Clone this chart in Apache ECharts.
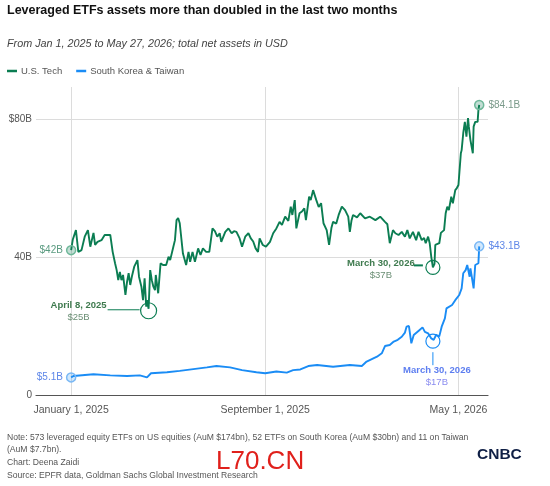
<!DOCTYPE html>
<html>
<head>
<meta charset="utf-8">
<script src="https://cdn.jsdelivr.net/npm/echarts@6/dist/echarts.min.js"></script>
<style>
  html, body { margin: 0; padding: 0; background: #fff; }
  #chart { width: 550px; height: 486px; }
</style>
</head>
<body>
<div id="chart"></div>
<script>
// U.S. Tech leveraged ETF assets ($B)
var techDates = [
  '2025-01-01','2025-01-03','2025-01-07','2025-01-10','2025-01-14','2025-01-18','2025-01-22','2025-01-25','2025-01-29','2025-01-31',
  '2025-02-03','2025-02-05','2025-02-08','2025-02-12','2025-02-19','2025-02-22','2025-02-25','2025-02-27','2025-03-01','2025-03-03',
  '2025-03-05','2025-03-07','2025-03-10','2025-03-12','2025-03-14','2025-03-16','2025-03-18','2025-03-21','2025-03-25','2025-03-27',
  '2025-03-30','2025-04-01','2025-04-03','2025-04-05','2025-04-06','2025-04-08','2025-04-10','2025-04-12','2025-04-14','2025-04-16',
  '2025-04-17','2025-04-20','2025-04-23','2025-04-26','2025-04-30','2025-05-03','2025-05-05','2025-05-09','2025-05-11','2025-05-13',
  '2025-05-15','2025-05-17','2025-05-21','2025-05-25','2025-05-28','2025-05-30','2025-06-02','2025-06-05','2025-06-09','2025-06-12',
  '2025-06-15','2025-06-19','2025-06-23','2025-06-27','2025-06-30','2025-07-03','2025-07-06','2025-07-08','2025-07-13','2025-07-17',
  '2025-07-21','2025-07-24','2025-07-27','2025-07-31','2025-08-03','2025-08-07','2025-08-11','2025-08-14','2025-08-17','2025-08-20',
  '2025-08-23','2025-08-25','2025-08-29','2025-09-02','2025-09-07','2025-09-11','2025-09-15','2025-09-19','2025-09-22','2025-09-26',
  '2025-09-30','2025-10-03','2025-10-05','2025-10-08','2025-10-10','2025-10-14','2025-10-17','2025-10-20','2025-10-22','2025-10-26',
  '2025-10-28','2025-10-31','2025-11-04','2025-11-07','2025-11-10','2025-11-13','2025-11-17','2025-11-20','2025-11-23','2025-11-25',
  '2025-11-29','2025-12-02','2025-12-06','2025-12-10','2025-12-14','2025-12-16','2025-12-18','2025-12-20','2025-12-25','2025-12-29',
  '2026-01-04','2026-01-10','2026-01-17','2026-01-23','2026-01-29','2026-02-01','2026-02-04','2026-02-08','2026-02-11','2026-02-15',
  '2026-02-19','2026-02-23','2026-02-26','2026-03-01','2026-03-05','2026-03-09','2026-03-12','2026-03-16','2026-03-19','2026-03-21',
  '2026-03-24','2026-03-26','2026-03-28','2026-03-30','2026-04-01','2026-04-02','2026-04-04','2026-04-07','2026-04-09','2026-04-13',
  '2026-04-15','2026-04-17','2026-04-19','2026-04-22','2026-04-24','2026-04-27','2026-04-29','2026-05-01','2026-05-04','2026-05-05',
  '2026-05-07','2026-05-09','2026-05-10','2026-05-11','2026-05-13','2026-05-14','2026-05-16','2026-05-19','2026-05-20','2026-05-22',
  '2026-05-25','2026-05-26','2026-05-27'];
var techValues = [
  42, 45, 47.8, 41.5, 42, 45.9, 47.8, 43, 47, 43.5,
  44.4, 44, 44.9, 46.4, 46.4, 41.5, 38.2, 36.2, 33.3, 35.7,
  33.3, 34.8, 29, 32.8, 35.3, 31.9, 34.3, 37.2, 39.1, 34.3,
  31.4, 27.5, 33.8, 25.6, 27.5, 25, 36.2, 33.3, 31.4, 30.4,
  34.8, 29.5, 38.2, 37.7, 37.7, 40.1, 39.1, 43, 44.9, 50.7,
  51.3, 49.8, 41, 37.7, 41.5, 38.6, 41.5, 38.6, 42.5, 40.6,
  42.5, 41.5, 41.5, 48.3, 47.5, 45.9, 46.9, 44.4, 47.3, 48.3,
  46.9, 47.5, 47.3, 45.4, 43, 45.9, 46.9, 45.4, 44.5, 42.5,
  41.5, 45.4, 43.5, 43, 44.4, 46.9, 48.3, 50.2, 49.3, 51.7,
  50.5, 54.6, 52.2, 56.5, 48.3, 52.7, 53.2, 54.1, 50.7, 57.5,
  56.5, 59.4, 56.5, 54.5, 55.6, 49.8, 47.8, 43.5, 48.5, 50.2,
  49.7, 52.2, 54.6, 53.6, 51.7, 47.3, 50.5, 52.2, 51.5, 52.7,
  51.2, 51.7, 50.7, 51.7, 50.2, 49.5, 44, 47.8, 46.9, 46.4,
  47.3, 45.9, 47.8, 45.4, 47.3, 44.9, 47.3, 44.9, 45.5, 44,
  45.9, 44, 40, 37, 38, 43.5, 43.5, 44, 47, 47.8,
  52.7, 54.6, 53.6, 57.5, 55.6, 59.4, 60, 60.9, 70.1, 71,
  75.9, 79.2, 79.7, 74.9, 80.3, 77.8, 73.9, 70.1, 77.8, 79.2,
  79.2, 82.6, 84.1];

// South Korea & Taiwan leveraged ETF assets ($B)
var skDates = [
  '2025-01-01','2025-01-04','2025-01-29','2025-02-19','2025-03-12','2025-03-28','2025-04-06','2025-04-11','2025-05-01','2025-05-17',
  '2025-06-03','2025-06-20','2025-07-02','2025-07-19','2025-08-03','2025-08-21','2025-09-01','2025-09-15','2025-09-28','2025-10-06',
  '2025-10-15','2025-10-25','2025-11-05','2025-11-25','2025-12-16','2025-12-31','2026-01-06','2026-01-19','2026-01-25','2026-01-29',
  '2026-02-04','2026-02-09','2026-02-14','2026-02-19','2026-02-23','2026-02-25','2026-02-28','2026-03-03','2026-03-06','2026-03-13',
  '2026-03-17','2026-03-20','2026-03-24','2026-03-28','2026-03-31','2026-04-03','2026-04-07','2026-04-10','2026-04-14','2026-04-16',
  '2026-04-23','2026-04-27','2026-05-02','2026-05-05','2026-05-07','2026-05-10','2026-05-12','2026-05-15','2026-05-16','2026-05-19',
  '2026-05-20','2026-05-22','2026-05-26','2026-05-27'];
var skValues = [
  5.1, 5.5, 6, 5.7, 5.5, 5.7, 5.1, 6.3, 6.6, 7,
  7.5, 8, 8.4, 8, 7.2, 6.6, 6.3, 6.8, 6.5, 7.2,
  7.4, 8.4, 8.7, 8.2, 8.7, 8.4, 9.7, 11.1, 12.1, 14.2,
  14.5, 15.5, 16, 16.9, 18.1, 19.8, 20, 15, 17.4, 18.8,
  19.6, 18.3, 17.9, 16.4, 16, 17.4, 17, 19.8, 22.2, 25.1,
  26.1, 27.5, 29, 30.9, 35.3, 36.2, 37.7, 34.3, 36.7, 32.4,
  30.9, 37.7, 38.2, 43.1];

var xTickDates = ['2025-01-01', '2025-09-01', '2026-05-01'];
var xTickLabels = ['January 1, 2025', 'September 1, 2025', 'May 1, 2026'];
var yTicks = [0, 40, 80];
var yTickLabels = ['0', '40B', '$80B'];

var GREEN = '#0b7d52';
var BLUE = '#1a8cf5';
var FONT = 'Liberation Sans';

function ts(s) { return echarts.number.parseDate(s).getTime(); }
function pairs(d, v) { return d.map(function (x, i) { return [ts(x), v[i]]; }); }

var myChart = echarts.init(document.getElementById('chart'));

var option = {
    animation: false,
    textStyle: { fontFamily: FONT },
    title: [
        { text: 'Leveraged ETFs assets more than doubled in the last two months', left: 7, top: 4, padding: 0,
          textStyle: { fontSize: 12.5, fontWeight: 'bold', color: '#111', fontFamily: FONT } },
        { text: 'From Jan 1, 2025 to May 27, 2026; total net assets in USD', left: 7, top: 38, padding: 0,
          textStyle: { fontSize: 10.8, fontStyle: 'italic', fontWeight: 'normal', color: '#444', fontFamily: FONT } }
    ],
    legend: {
        left: 7, top: 66, padding: 0, icon: 'rect', itemWidth: 10, itemHeight: 2.5, itemGap: 14,
        textStyle: { fontSize: 9.5, color: '#555', padding: [0, 0, 0, -1] },
        data: ['U.S. Tech', 'South Korea & Taiwan']
    },
    grid: { left: 36, right: 62, top: 87, bottom: 91, containLabel: false },
    xAxis: {
        type: 'value',
        min: ts('2024-11-18'),
        max: ts('2026-06-07'),
        axisLine: { show: true, lineStyle: { color: '#555', width: 1.2 } },
        axisTick: { show: false, customValues: xTickDates.map(ts) },
        splitLine: { show: true, lineStyle: { color: '#dcdcdc', width: 1 } },
        axisLabel: {
            customValues: xTickDates.map(ts),
            color: '#555', fontSize: 10.5, margin: 10, hideOverlap: false,
            formatter: function (v) {
                for (var i = 0; i < xTickDates.length; i++) if (ts(xTickDates[i]) === v) return xTickLabels[i];
                return '';
            }
        }
    },
    yAxis: {
        type: 'value', min: 0, max: 89.3,
        axisLine: { show: false },
        axisTick: { show: false, customValues: yTicks },
        splitLine: { show: true, lineStyle: { color: '#dcdcdc', width: 1 } },
        axisLabel: { customValues: yTicks, color: '#555', fontSize: 10, margin: 4,
            formatter: function (v) { var i = yTicks.indexOf(v); return i >= 0 ? yTickLabels[i] : ''; } }
    },
    series: [
        {
            name: 'U.S. Tech', type: 'line', data: pairs(techDates, techValues),
            showSymbol: false, lineStyle: { color: GREEN, width: 1.9 }, itemStyle: { color: GREEN },
            z: 3,
            markPoint: {
                symbol: 'circle', symbolSize: 9, silent: true,
                itemStyle: { color: 'rgba(11,125,82,0.25)', borderColor: '#6fb89a', borderWidth: 1.5 },
                data: [
                    { coord: [ts(techDates[0]), techValues[0]], value: '$42B',
                      label: { show: true, position: 'left', distance: 3, color: '#5a9b80', fontSize: 10, formatter: '{c}' } },
                    { coord: [ts(techDates[techDates.length - 1]), techValues[techValues.length - 1]], value: '$84.1B',
                      label: { show: true, position: 'right', distance: 4, color: '#7a9a8a', fontSize: 10, formatter: '{c}' } }
                ]
            }
        },
        {
            name: 'South Korea & Taiwan', type: 'line', data: pairs(skDates, skValues),
            showSymbol: false, lineStyle: { color: BLUE, width: 1.9 }, itemStyle: { color: BLUE },
            z: 3,
            markPoint: {
                symbol: 'circle', symbolSize: 9, silent: true,
                itemStyle: { color: 'rgba(26,140,245,0.2)', borderColor: '#7ab8f5', borderWidth: 1.5 },
                data: [
                    { coord: [ts(skDates[0]), skValues[0]], value: '$5.1B',
                      label: { show: true, position: 'left', distance: 3, color: '#5d86e8', fontSize: 10, formatter: '{c}' } },
                    { coord: [ts(skDates[skDates.length - 1]), skValues[skValues.length - 1]], value: '$43.1B',
                      label: { show: true, position: 'right', distance: 4, color: '#5d86e8', fontSize: 10, formatter: '{c}' } }
                ]
            }
        }
    ]
};
myChart.setOption(option);

// annotations at the lows, positioned through the chart's own scales
var aprLow = myChart.convertToPixel({ gridIndex: 0 }, [ts('2025-04-08'), 25]);
var marLowT = myChart.convertToPixel({ gridIndex: 0 }, [ts('2026-03-30'), 37]);
var marLowS = myChart.convertToPixel({ gridIndex: 0 }, [ts('2026-03-30'), 15.6]);

var noteStyle = { fontSize: 8.6, fill: '#555', fontFamily: FONT };
var graphic = [
    // April 8, 2025
    { type: 'circle', shape: { cx: aprLow[0], cy: aprLow[1] + 2, r: 8 }, style: { fill: 'none', stroke: GREEN, lineWidth: 1.2 }, z: 10 },
    { type: 'line', shape: { x1: aprLow[0] - 41, y1: aprLow[1] + 1, x2: aprLow[0] - 9, y2: aprLow[1] + 1 }, style: { stroke: GREEN, lineWidth: 1 }, z: 10 },
    { type: 'text', x: aprLow[0] - 70, y: aprLow[1] - 3, style: { text: 'April 8, 2025', fontSize: 9.5, fontWeight: 'bold', fill: '#3e7a4e', align: 'center', verticalAlign: 'middle', fontFamily: FONT }, z: 10 },
    { type: 'text', x: aprLow[0] - 70, y: aprLow[1] + 9, style: { text: '$25B', fontSize: 9.5, fill: '#6b8f75', align: 'center', verticalAlign: 'middle', fontFamily: FONT }, z: 10 },
    // March 30, 2026 - U.S. Tech
    { type: 'circle', shape: { cx: marLowT[0], cy: marLowT[1], r: 7 }, style: { fill: 'none', stroke: GREEN, lineWidth: 1.2 }, z: 10 },
    { type: 'line', shape: { x1: marLowT[0] - 19, y1: marLowT[1] - 2, x2: marLowT[0] - 10, y2: marLowT[1] - 2 }, style: { stroke: GREEN, lineWidth: 2 }, z: 10 },
    { type: 'text', x: marLowT[0] - 52, y: marLowT[1] - 4, style: { text: 'March 30, 2026', fontSize: 9.5, fontWeight: 'bold', fill: '#3e7a4e', align: 'center', verticalAlign: 'middle', fontFamily: FONT }, z: 10 },
    { type: 'text', x: marLowT[0] - 52, y: marLowT[1] + 8, style: { text: '$37B', fontSize: 9.5, fill: '#6b8f75', align: 'center', verticalAlign: 'middle', fontFamily: FONT }, z: 10 },
    // March 30, 2026 - South Korea & Taiwan
    { type: 'circle', shape: { cx: marLowS[0], cy: marLowS[1], r: 7 }, style: { fill: 'none', stroke: BLUE, lineWidth: 1.2 }, z: 10 },
    { type: 'line', shape: { x1: marLowS[0], y1: marLowS[1] + 11, x2: marLowS[0], y2: marLowS[1] + 24 }, style: { stroke: BLUE, lineWidth: 1 }, z: 10 },
    { type: 'text', x: marLowS[0] + 4, y: marLowS[1] + 29, style: { text: 'March 30, 2026', fontSize: 9.5, fontWeight: 'bold', fill: '#5d7ef0', align: 'center', verticalAlign: 'middle', fontFamily: FONT }, z: 10 },
    { type: 'text', x: marLowS[0] + 4, y: marLowS[1] + 41, style: { text: '$17B', fontSize: 9.5, fill: '#8a8cf0', align: 'center', verticalAlign: 'middle', fontFamily: FONT }, z: 10 },
    // footer
    { type: 'text', left: 7, top: 433, style: Object.assign({ text: 'Note: 573 leveraged equity ETFs on US equities (AuM $174bn), 52 ETFs on South Korea (AuM $30bn) and 11 on Taiwan' }, noteStyle) },
    { type: 'text', left: 7, top: 445, style: Object.assign({ text: '(AuM $7.7bn).' }, noteStyle) },
    { type: 'text', left: 7, top: 458, style: Object.assign({ text: 'Chart: Deena Zaidi' }, noteStyle) },
    { type: 'text', left: 7, top: 471, style: Object.assign({ text: 'Source: EPFR data, Goldman Sachs Global Investment Research' }, noteStyle) },
    { type: 'text', left: 216, top: 449, style: { text: 'L70.CN', fontSize: 26, fill: '#e0201b', fontFamily: FONT }, z: 20 },
    { type: 'text', left: 477, top: 447, style: { text: 'CNBC', fontSize: 15.5, fontWeight: 900, fill: '#0f1f45', fontFamily: FONT } }
];
myChart.setOption({ graphic: graphic });
</script>
</body>
</html>
